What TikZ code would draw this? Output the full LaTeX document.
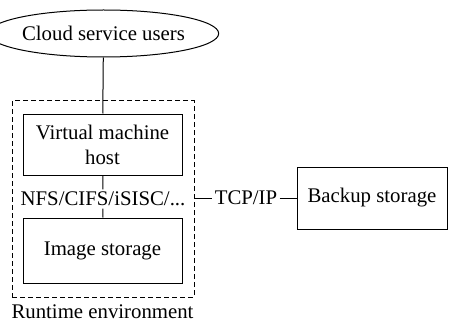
\documentclass[tikz,border=0pt]{standalone}
\usepackage{fontspec}
\setmainfont{Liberation Serif}
\usetikzlibrary{shapes.geometric,positioning}

\begin{document}
\begin{tikzpicture}[x=0.5pt,y=-0.5pt,line width=0.5pt,font=\fontsize{10.4}{12.5}\selectfont,
    block/.style={draw,minimum width=79.5pt,align=center,inner sep=0pt}]
    \useasboundingbox (0,0) rectangle (449,326);
    % users on top
    \node[draw,ellipse,inner sep=0pt,minimum width=86.5pt,minimum height=23.5pt] (users) at (103.5,33.5) {Cloud service users};
    % runtime environment
    \node[draw,dash pattern=on 2.5pt off 1.5pt,minimum width=91pt,minimum height=98pt] (runtime) at (103,199) {};
    \node (runtimelabel) at (102.5,312) {Runtime environment};
    \node[block,minimum height=30.5pt] (vm) at (102.5,144.5) {Virtual machine\\host};
    \node[block,minimum height=32.5pt] (image) at (102.5,250.5) {Image storage};
    \node[fill=white,inner sep=1pt] (nfs) at (103,199) {NFS/CIFS/iSISC/...};
    % backup side
    \node[inner sep=1pt] (tcp) at (246,198) {TCP/IP};
    \node[block,minimum width=75pt,minimum height=31pt] (backup) at (372,198) {Backup storage};
    \draw (users) -- (vm);
    \draw (vm) -- (nfs) -- (image);
    \draw (tcp.west -| runtime.east) -- (tcp) -- (backup);
\end{tikzpicture}
\end{document}
